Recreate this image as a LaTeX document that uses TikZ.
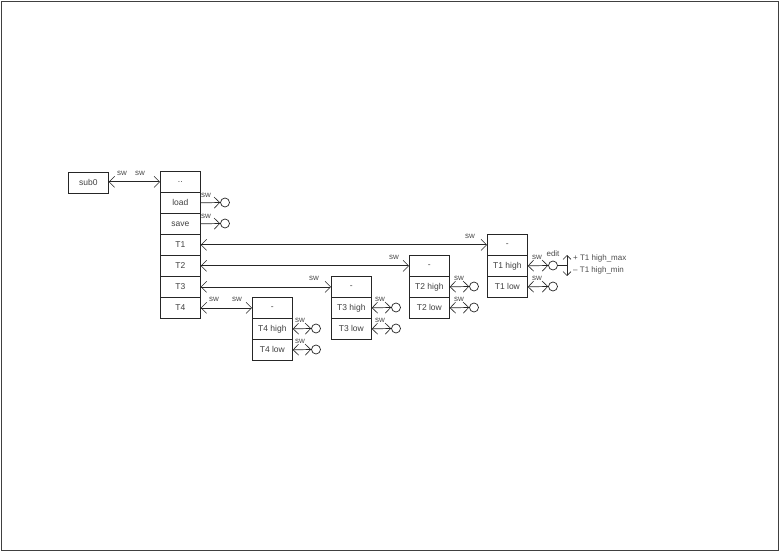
\documentclass[tikz,border=0pt]{standalone}
\usepackage{fontspec}
\setmainfont{Liberation Sans}
\usetikzlibrary{arrows.meta}
\tikzset{
  cell/.style={draw=black!85, line width=0.7bp, minimum width=40bp, minimum height=21bp, inner sep=0pt, anchor=north west, font=\fontsize{8.5bp}{9bp}\selectfont, text=black!75},
  lbl/.style={font=\fontsize{8bp}{9bp}\selectfont, text=black!70, inner sep=0pt},
  term/.style={draw=black!85, line width=0.7bp, circle, minimum size=9bp, inner sep=0pt},
  conn/.style={draw=black!85, line width=0.7bp},
  tipend/.style={conn, -{Straight Barb[length=5.5bp,width=11bp,line width=0.6bp]}},
  tipboth/.style={conn, {Straight Barb[length=5.5bp,width=11bp,line width=0.6bp]}-{Straight Barb[length=5.5bp,width=11bp,line width=0.6bp]}},
  tipsmall/.style={conn, {Straight Barb[length=4bp,width=8bp,line width=0.6bp]}-{Straight Barb[length=4bp,width=8bp,line width=0.6bp]}}
}
\begin{document}
\begin{tikzpicture}[x=1bp,y=-1bp]
\useasboundingbox (0,0) rectangle (780,552);
\draw[black!75, line width=1bp] (1.5,1.5) rectangle (778.5,550.5);

% sub0
\node[cell] (sub0) at (68,172) {sub0};

% main box
\node[cell] (m0) at (160,171) {..};
\node[cell] (m1) at (160,192) {load};
\node[cell] (m2) at (160,213) {save};
\node[cell] (m3) at (160,234) {T1};
\node[cell] (m4) at (160,255) {T2};
\node[cell] (m5) at (160,276) {T3};
\node[cell] (m6) at (160,297) {T4};

% T1 block
\node[cell] (a0) at (487,234) {-};
\node[cell] (a1) at (487,255) {T1 high};
\node[cell] (a2) at (487,276) {T1 low};
% T2 block
\node[cell] (b0) at (409,255) {-};
\node[cell] (b1) at (409,276) {T2 high};
\node[cell] (b2) at (409,297) {T2 low};
% T3 block
\node[cell] (c0) at (331,276) {-};
\node[cell] (c1) at (331,297) {T3 high};
\node[cell] (c2) at (331,318) {T3 low};
% T4 block
\node[cell] (d0) at (252,297) {-};
\node[cell] (d1) at (252,318) {T4 high};
\node[cell] (d2) at (252,339) {T4 low};

% terminals
\node[term] (tload) at (225,202.5) {};
\node[term] (tsave) at (225,223.5) {};
\node[term] (ta1) at (553,265.5) {};
\node[term] (ta2) at (553,286.5) {};
\node[term] (tb1) at (474,286.5) {};
\node[term] (tb2) at (474,307.5) {};
\node[term] (tc1) at (396,307.5) {};
\node[term] (tc2) at (396,328.5) {};
\node[term] (td1) at (316,328.5) {};
\node[term] (td2) at (316,349.5) {};

% connectors
\draw[tipboth] (sub0.east |- m0.west) -- (m0.west);
\draw[tipend] (m1.east) -- (tload.west);
\draw[tipend] (m2.east) -- (tsave.west);
\draw[tipboth] (m3.east) -- (a0.west);
\draw[tipboth] (m4.east) -- (b0.west);
\draw[tipboth] (m5.east) -- (c0.west);
\draw[tipboth] (m6.east) -- (d0.west);
\draw[tipboth] (a1.east) -- (ta1.west);
\draw[tipboth] (a2.east) -- (ta2.west);
\draw[tipboth] (b1.east) -- (tb1.west);
\draw[tipboth] (b2.east) -- (tb2.west);
\draw[tipboth] (c1.east) -- (tc1.west);
\draw[tipboth] (c2.east) -- (tc2.west);
\draw[tipboth] (d1.east) -- (td1.west);
\draw[tipboth] (d2.east) -- (td2.west);

% edit range
\coordinate (bar) at (567,265.5);
\coordinate (barT) at (567,255);
\coordinate (barB) at (567,276);
\draw[conn] (ta1.east) -- (bar);
\draw[tipsmall] (barT) -- (barB);

% labels
\node[lbl] (l1) at (122,173.5) {sw};
\node[lbl] (l2) at (140,173.5) {sw};
\node[lbl] (l3) at (206,195) {sw};
\node[lbl] (l4) at (206,216) {sw};
\node[lbl] (l5) at (470,236.5) {sw};
\node[lbl] (l6) at (394,257.5) {sw};
\node[lbl] (l7) at (314,278.5) {sw};
\node[lbl] (l8) at (214,299) {sw};
\node[lbl] (l9) at (237,299) {sw};
\node[lbl] (l10) at (300,320) {sw};
\node[lbl] (l11) at (300,341) {sw};
\node[lbl] (l12) at (380,299) {sw};
\node[lbl] (l13) at (380,320) {sw};
\node[lbl] (l14) at (459,278.5) {sw};
\node[lbl] (l15) at (459,299.5) {sw};
\node[lbl] (l16) at (537,257) {sw};
\node[lbl] (l17) at (537,278.5) {sw};
\node[lbl] (edit) at (553,254) {edit};
\node[lbl, anchor=west] (hmax) at (573,258.5) {+ T1 high\_max};
\node[lbl, anchor=west] (hmin) at (573,270.5) {– T1 high\_min};
\end{tikzpicture}
\end{document}
